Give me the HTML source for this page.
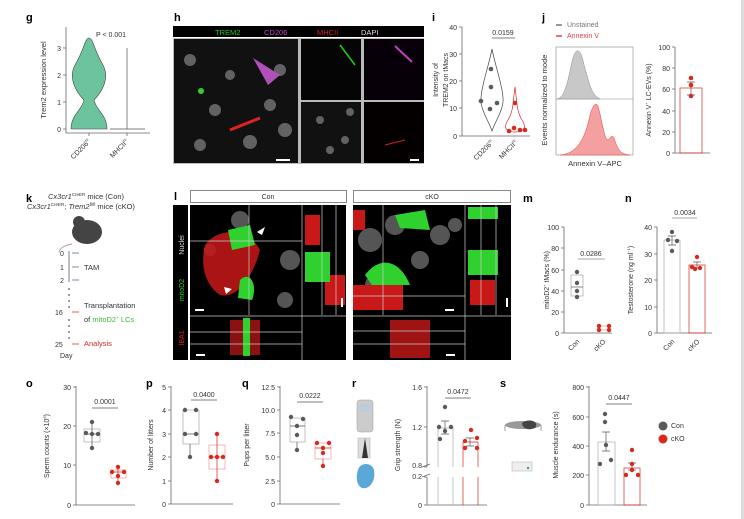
<!DOCTYPE html>
<html><head><meta charset="utf-8"><style>
body{margin:0;background:#fff}
svg{display:block;font-family:"Liberation Sans",sans-serif}
.t{font-size:7px;fill:#333}
.L{font-size:11px;font-weight:bold;fill:#000}
.ax{stroke:#666;stroke-width:0.8;fill:none}
</style></head><body>
<svg width="744" height="519" viewBox="0 0 744 519" xmlns="http://www.w3.org/2000/svg">
<rect x="741" y="0" width="3" height="519" fill="#ddd"/>
<!-- g -->
<text class="L" x="26" y="21">g</text>
<path class="ax" d="M66,27V133H150M63,48h3M63,75h3M63,102h3M63,129h3M89,133v3M127,133v3"/>
<g class="t" text-anchor="end"><text x="61" y="51">3</text><text x="61" y="78">2</text><text x="61" y="105">1</text><text x="61" y="132">0</text></g>
<path d="M89,38C85,38 84,50 75,65C68,78 76,92 84,100C82,110 71,115 71,129H107C107,115 96,110 94,100C102,92 110,78 103,65C94,50 93,38 89,38Z" fill="#6cc49c" stroke="#444" stroke-width="0.6"/>
<path d="M127,48V129M110,129H145" stroke="#555" stroke-width="0.7"/>
<text class="t" x="96" y="37">P &lt; 0.001</text>
<text class="t" transform="translate(46,80) rotate(-90)" text-anchor="middle" style="font-size:7.5px">Trem2 expression level</text>
<text class="t" transform="translate(91,142) rotate(-45)" text-anchor="end">CD206<tspan font-size="4" dy="-3">hi</tspan></text>
<text class="t" transform="translate(129,142) rotate(-45)" text-anchor="end">MHCII<tspan font-size="4" dy="-3">hi</tspan></text>
<!-- h -->
<text class="L" x="174" y="21">h</text>
<rect x="173" y="26" width="251" height="11" fill="#000"/>
<g style="font-size:7.5px"><text x="215" y="35" fill="#2cc52c">TREM2</text><text x="264" y="35" fill="#c04ac8">CD206</text><text x="317" y="35" fill="#d22">MHCII</text><text x="361" y="35" fill="#ddd">DAPI</text></g>
<rect x="173" y="38" width="251" height="126" fill="#bbb"/>
<rect x="174" y="39" width="124" height="124" fill="#111"/>
<rect x="301" y="39" width="60" height="61" fill="#050505"/>
<rect x="364" y="39" width="60" height="61" fill="#080008"/>
<rect x="301" y="102" width="60" height="61" fill="#111"/>
<rect x="364" y="102" width="60" height="61" fill="#050000"/>
<g fill="#777" opacity="0.8"><circle cx="190" cy="60" r="6"/><circle cx="215" cy="110" r="6"/><circle cx="250" cy="142" r="7"/><circle cx="280" cy="70" r="6"/><circle cx="200" cy="145" r="6"/><circle cx="285" cy="130" r="7"/><circle cx="230" cy="75" r="5"/><circle cx="270" cy="105" r="6"/><circle cx="320" cy="120" r="4"/><circle cx="345" cy="140" r="4"/><circle cx="330" cy="150" r="4"/><circle cx="350" cy="112" r="4"/></g>
<path d="M253,58L280,75L268,85Z" fill="#b050b8"/><path d="M230,130L260,118" stroke="#d22" stroke-width="3"/><circle cx="201" cy="91" r="3" fill="#3c3"/>
<path d="M340,45L355,65" stroke="#2c2" stroke-width="1.5"/><path d="M395,46L412,62" stroke="#b4b" stroke-width="2"/><path d="M385,145L405,140" stroke="#c22" stroke-width="1"/>
<rect x="276" y="159" width="14" height="2" fill="#fff"/><rect x="410" y="159" width="9" height="2" fill="#fff"/>
<!-- i -->
<text class="L" x="432" y="21">i</text>
<path class="ax" d="M462,27V136H530M459,27h3M459,54h3M459,81h3M459,108h3M459,136h3"/>
<g class="t" text-anchor="end"><text x="457" y="30">40</text><text x="457" y="57">30</text><text x="457" y="84">20</text><text x="457" y="111">10</text><text x="457" y="139">0</text></g>
<path d="M492,49C489,65 480,90 481,102C482,112 489,122 492,131C495,122 502,112 503,102C504,90 495,65 492,49Z" fill="none" stroke="#444" stroke-width="0.7"/>
<path d="M515,87C513,100 514,110 508,120C503,128 506,132 515,132C524,132 527,128 522,120C516,110 517,100 515,87Z" fill="none" stroke="#d62a1e" stroke-width="0.7"/>
<g fill="#5a5a5a"><circle cx="491" cy="69" r="2.3"/><circle cx="491" cy="87" r="2.3"/><circle cx="481" cy="101" r="2.3"/><circle cx="497" cy="103" r="2.3"/><circle cx="490" cy="109" r="2.3"/></g>
<g fill="#d62a1e"><circle cx="515" cy="103" r="2.3"/><circle cx="514" cy="128" r="2.3"/><circle cx="520" cy="130" r="2.3"/><circle cx="509" cy="131" r="2.3"/><circle cx="525" cy="130" r="2.3"/></g>
<path d="M492,38H515" stroke="#555" stroke-width="0.7"/><text class="t" x="503" y="35" text-anchor="middle">0.0159</text>
<text class="t" transform="translate(438,80) rotate(-90)" text-anchor="middle">Intensity of</text>
<text class="t" transform="translate(448,80) rotate(-90)" text-anchor="middle">TREM2 on tMacs</text>
<text class="t" transform="translate(494,143) rotate(-45)" text-anchor="end">CD206<tspan font-size="4" dy="-3">hi</tspan></text>
<text class="t" transform="translate(518,143) rotate(-45)" text-anchor="end">MHCII<tspan font-size="4" dy="-3">hi</tspan></text>
<!-- j -->
<text class="L" x="542" y="21">j</text>
<path d="M556,25h6" stroke="#777" stroke-width="1.5"/><text class="t" x="567" y="27" fill="#777" style="fill:#777">Unstained</text>
<path d="M556,36h6" stroke="#e04545" stroke-width="1.5"/><text x="567" y="38" style="font-size:7px;fill:#e04545">Annexin V</text>
<rect x="556" y="47" width="77" height="108" fill="none" stroke="#888" stroke-width="0.6"/>
<path d="M556,99H633" stroke="#888" stroke-width="0.6"/>
<path d="M557,99C565,98 568,80 572,62C574,54 576,50 578,51C582,52 583,62 586,72C590,86 592,95 600,99Z" fill="#c8c8c8" stroke="#888" stroke-width="0.5"/>
<path d="M560,155C576,154 585,140 590,115C593,104 596,102 598,106C603,125 604,138 608,140C611,137 612,134 614,138C618,150 620,154 630,155Z" fill="#f4a0a0" stroke="#e04545" stroke-width="0.5"/>
<text class="t" x="595" y="166" text-anchor="middle" style="font-size:7.5px">Annexin V–APC</text>
<text class="t" transform="translate(547,100) rotate(-90)" text-anchor="middle" style="font-size:7.5px">Events normalized to mode</text>
<path class="ax" d="M675,47V153H710M672,47h3M672,68h3M672,89h3M672,111h3M672,132h3M672,153h3"/>
<g class="t" text-anchor="end"><text x="670" y="50">100</text><text x="670" y="71">80</text><text x="670" y="92">60</text><text x="670" y="114">40</text><text x="670" y="135">20</text><text x="670" y="156">0</text></g>
<rect x="680" y="88" width="22" height="65" fill="none" stroke="#d62a1e" stroke-width="0.7"/>
<path d="M691,82V95M687,82h8M687,95h8" stroke="#555" stroke-width="0.7"/>
<g fill="#d62a1e"><circle cx="691" cy="78" r="2.3"/><circle cx="691" cy="85" r="2.3"/><circle cx="691" cy="96" r="2.3"/></g>
<text class="t" transform="translate(651,100) rotate(-90)" text-anchor="middle">Annexin V<tspan font-size="4" dy="-3">+</tspan><tspan dy="3"> LC-EVs (%)</tspan></text>
<!-- k -->
<text class="L" x="26" y="202">k</text>
<text class="t" x="48" y="199" style="font-size:7.5px"><tspan font-style="italic">Cx3cr1</tspan><tspan font-size="4.5" dy="-3">CreER</tspan><tspan dy="3"> mice (Con)</tspan></text>
<text class="t" x="27" y="209" style="font-size:7.5px"><tspan font-style="italic">Cx3cr1</tspan><tspan font-size="4.5" dy="-3">CreER</tspan><tspan dy="3">; </tspan><tspan font-style="italic">Trem2</tspan><tspan font-size="4.5" dy="-3">fl/fl</tspan><tspan dy="3"> mice (cKO)</tspan></text>
<ellipse cx="87" cy="232" rx="15" ry="12" fill="#444"/><circle cx="79" cy="222" r="6" fill="#444"/><path d="M72,244C65,245 60,248 59,252" stroke="#b99" stroke-width="1" fill="none"/>
<path d="M69,251V282" stroke="#8a90a8" stroke-width="1.2"/>
<g class="t"><text x="60" y="256">0</text><text x="60" y="270">1</text><text x="60" y="283">2</text><text x="55" y="315">16</text><text x="55" y="347">25</text><text x="60" y="358">Day</text></g>
<g stroke="#55608a" stroke-width="0.8"><path d="M72,253h7M72,267h7M72,280h7"/></g>
<g stroke="#d62a1e" stroke-width="0.8"><path d="M72,312h7M72,344h7"/></g>
<g fill="#555"><circle cx="69" cy="289" r="0.9"/><circle cx="69" cy="295" r="0.9"/><circle cx="69" cy="301" r="0.9"/><circle cx="69" cy="307" r="0.9"/><circle cx="69" cy="320" r="0.9"/><circle cx="69" cy="326" r="0.9"/><circle cx="69" cy="332" r="0.9"/><circle cx="69" cy="338" r="0.9"/></g>
<text class="t" x="84" y="270" style="font-size:7.5px">TAM</text>
<text class="t" x="84" y="308" style="font-size:7.5px">Transplantation</text>
<text x="84" y="322" style="font-size:7.5px;fill:#333">of <tspan fill="#3cb43c">mitoD2<tspan font-size="4.5" dy="-3">+</tspan><tspan dy="3"> LCs</tspan></tspan></text>
<text x="84" y="346" style="font-size:7.5px;fill:#d62a1e">Analysis</text>
<!-- l -->
<text class="L" x="174" y="200">l</text>
<rect x="190.5" y="190.5" width="156" height="12" fill="#fff" stroke="#555" stroke-width="0.7"/><text class="t" x="268" y="199" text-anchor="middle">Con</text>
<rect x="353.5" y="190.5" width="157" height="12" fill="#fff" stroke="#555" stroke-width="0.7"/><text class="t" x="432" y="199" text-anchor="middle">cKO</text>
<rect x="173" y="205" width="15" height="155" fill="#000"/>
<text transform="translate(184,245) rotate(-90)" text-anchor="middle" style="font-size:7px;fill:#ddd">Nuclei</text>
<text transform="translate(184,290) rotate(-90)" text-anchor="middle" style="font-size:7px;fill:#3c3">mitoD2</text>
<text transform="translate(184,338) rotate(-90)" text-anchor="middle" style="font-size:7px;fill:#d22">IBA1</text>
<rect x="190" y="205" width="156" height="155" fill="#000"/>
<rect x="353" y="205" width="158" height="155" fill="#000"/>
<g fill="#555"><circle cx="240" cy="220" r="9"/><circle cx="290" cy="260" r="10"/><circle cx="285" cy="300" r="8"/><circle cx="210" cy="250" r="6"/><circle cx="370" cy="240" r="12"/><circle cx="395" cy="225" r="10"/><circle cx="440" cy="235" r="10"/><circle cx="420" cy="260" r="9"/><circle cx="375" cy="285" r="10"/><circle cx="455" cy="225" r="7"/></g>
<g fill="#c81818"><path d="M205,245C220,225 250,230 260,250C255,270 240,300 220,295C205,285 200,265 205,245Z" opacity="0.85"/><rect x="305" y="215" width="15" height="30"/><rect x="325" y="275" width="20" height="30"/><rect x="353" y="285" width="50" height="25"/><rect x="470" y="280" width="25" height="25"/><rect x="353" y="210" width="12" height="20"/><rect x="230" y="320" width="30" height="35" opacity="0.7"/><rect x="390" y="320" width="40" height="38" opacity="0.8"/></g>
<g fill="#2ed12e"><path d="M228,230L250,225L255,245L232,250Z"/><path d="M240,280C250,270 258,285 252,300L238,298Z"/><rect x="305" y="252" width="25" height="30"/><path d="M365,275C380,255 400,260 410,285L372,285Z"/><path d="M395,215L425,210L430,230L400,228Z"/><rect x="468" y="207" width="30" height="12"/><rect x="468" y="250" width="30" height="25"/><rect x="243" y="318" width="7" height="38"/></g>
<g stroke="#ccc" stroke-width="0.7" fill="none"><path d="M190,241H302M249,205V315M302,205V360M190,316H346M190,332H302M190,344H302M322,205V315M336,205V315"/><path d="M353,296H465M383,205V315M465,205V360M353,316H511M353,331H465M353,344H465M481,205V315M496,205V315"/></g>
<path d="M257,232l8,-5l-3,8Z M224,287l8,2l-6,5Z" fill="#fff"/>
<g fill="#fff"><rect x="195" y="309" width="9" height="2"/><rect x="341" y="298" width="2" height="9"/><rect x="196" y="354" width="9" height="2"/><rect x="445" y="309" width="9" height="2"/><rect x="506" y="298" width="2" height="9"/><rect x="446" y="354" width="9" height="2"/></g>
<!-- m -->
<text class="L" x="523" y="202">m</text>
<path class="ax" d="M564,227V333H612M561,227h3M561,248h3M561,270h3M561,291h3M561,312h3M561,333h3"/>
<g class="t" text-anchor="end"><text x="559" y="230">100</text><text x="559" y="251">80</text><text x="559" y="273">60</text><text x="559" y="294">40</text><text x="559" y="315">20</text><text x="559" y="336">0</text></g>
<rect x="571" y="275" width="12" height="21" fill="none" stroke="#999" stroke-width="0.6"/><path d="M571,287h12" stroke="#555" stroke-width="0.7"/>
<rect x="598" y="326" width="12" height="4" fill="none" stroke="#e88" stroke-width="0.6"/>
<g fill="#5a5a5a"><circle cx="577" cy="272" r="2.2"/><circle cx="577" cy="283" r="2.2"/><circle cx="577" cy="291" r="2.2"/><circle cx="577" cy="297" r="2.2"/></g>
<g fill="#d62a1e"><circle cx="599" cy="326" r="2.2"/><circle cx="609" cy="326" r="2.2"/><circle cx="599" cy="330" r="2.2"/><circle cx="609" cy="330" r="2.2"/></g>
<path d="M578,259H605" stroke="#888" stroke-width="0.7"/><text class="t" x="591" y="256" text-anchor="middle">0.0286</text>
<text class="t" transform="translate(549,280) rotate(-90)" text-anchor="middle">mitoD2<tspan font-size="4" dy="-3">+</tspan><tspan dy="3"> tMacs (%)</tspan></text>
<text class="t" transform="translate(580,342) rotate(-45)" text-anchor="end">Con</text><text class="t" transform="translate(606,342) rotate(-45)" text-anchor="end">cKO</text>
<!-- n -->
<text class="L" x="625" y="202">n</text>
<path class="ax" d="M657,227V333H712M654,227h3M654,254h3M654,280h3M654,307h3M654,333h3"/>
<g class="t" text-anchor="end"><text x="652" y="230">40</text><text x="652" y="257">30</text><text x="652" y="283">20</text><text x="652" y="310">10</text><text x="652" y="336">0</text></g>
<rect x="664" y="240" width="16" height="93" fill="none" stroke="#aaa" stroke-width="0.7"/><rect x="689" y="265" width="16" height="68" fill="none" stroke="#d62a1e" stroke-width="0.7"/>
<path d="M672,236V245M668,236h8M668,245h8M697,262V268M693,262h8M693,268h8" stroke="#555" stroke-width="0.7"/>
<g fill="#5a5a5a"><circle cx="672" cy="232" r="2.2"/><circle cx="668" cy="240" r="2.2"/><circle cx="677" cy="241" r="2.2"/><circle cx="672" cy="251" r="2.2"/></g>
<g fill="#d62a1e"><circle cx="697" cy="257" r="2.2"/><circle cx="692" cy="267" r="2.2"/><circle cx="700" cy="268" r="2.2"/><circle cx="695" cy="269" r="2.2"/></g>
<path d="M672,218H697" stroke="#888" stroke-width="0.7"/><text class="t" x="685" y="215" text-anchor="middle">0.0034</text>
<text class="t" transform="translate(633,280) rotate(-90)" text-anchor="middle">Testosterone (ng ml<tspan font-size="4" dy="-3">−1</tspan><tspan dy="3">)</tspan></text>
<text class="t" transform="translate(675,342) rotate(-45)" text-anchor="end">Con</text><text class="t" transform="translate(700,342) rotate(-45)" text-anchor="end">cKO</text>
<!-- o -->
<text class="L" x="26" y="387">o</text>
<path class="ax" d="M76,386V505H135M73,387h3M73,426h3M73,465h3M73,505h3"/>
<g class="t" text-anchor="end"><text x="71" y="390">30</text><text x="71" y="429">20</text><text x="71" y="468">10</text><text x="71" y="508">0</text></g>
<rect x="84" y="429" width="16" height="13" fill="none" stroke="#999" stroke-width="0.6"/><path d="M92,422V449M84,434h16" stroke="#555" stroke-width="0.7"/>
<rect x="111" y="470" width="15" height="8" fill="none" stroke="#e88" stroke-width="0.6"/><path d="M118,467V483M111,472h15" stroke="#d62a1e" stroke-width="0.7"/>
<g fill="#5a5a5a"><circle cx="92" cy="422" r="2.2"/><circle cx="86" cy="433" r="2.2"/><circle cx="92" cy="434" r="2.2"/><circle cx="98" cy="434" r="2.2"/><circle cx="92" cy="448" r="2.2"/></g>
<g fill="#d62a1e"><circle cx="118" cy="467" r="2.2"/><circle cx="112" cy="472" r="2.2"/><circle cx="124" cy="472" r="2.2"/><circle cx="118" cy="476" r="2.2"/><circle cx="118" cy="483" r="2.2"/></g>
<path d="M92,408H118" stroke="#555" stroke-width="0.7"/><text class="t" x="105" y="404" text-anchor="middle">0.0001</text>
<text class="t" transform="translate(49,446) rotate(-90)" text-anchor="middle">Sperm counts (×10<tspan font-size="4" dy="-3">6</tspan><tspan dy="3">)</tspan></text>
<!-- p -->
<text class="L" x="146" y="387">p</text>
<path class="ax" d="M171,386V504H233M168,387h3M168,410h3M168,434h3M168,457h3M168,481h3M168,504h3"/>
<g class="t" text-anchor="end"><text x="166" y="390">5</text><text x="166" y="413">4</text><text x="166" y="437">3</text><text x="166" y="460">2</text><text x="166" y="484">1</text><text x="166" y="507">0</text></g>
<rect x="183" y="410" width="16" height="34" fill="none" stroke="#999" stroke-width="0.6"/><path d="M190,444V457M183,434h16" stroke="#555" stroke-width="0.7"/>
<rect x="209" y="445" width="16" height="24" fill="none" stroke="#e88" stroke-width="0.6"/><path d="M217,434V481M209,457h16" stroke="#d62a1e" stroke-width="0.7"/>
<g fill="#5a5a5a"><circle cx="185" cy="410" r="2.2"/><circle cx="196" cy="410" r="2.2"/><circle cx="185" cy="434" r="2.2"/><circle cx="196" cy="434" r="2.2"/><circle cx="190" cy="457" r="2.2"/></g>
<g fill="#d62a1e"><circle cx="217" cy="434" r="2.2"/><circle cx="211" cy="457" r="2.2"/><circle cx="217" cy="457" r="2.2"/><circle cx="223" cy="457" r="2.2"/><circle cx="217" cy="481" r="2.2"/></g>
<path d="M191,400H217" stroke="#555" stroke-width="0.7"/><text class="t" x="204" y="397" text-anchor="middle">0.0400</text>
<text class="t" transform="translate(153,445) rotate(-90)" text-anchor="middle">Number of litters</text>
<!-- q -->
<text class="L" x="242" y="387">q</text>
<path class="ax" d="M280,386V504H340M277,387h3M277,410h3M277,433h3M277,457h3M277,481h3M277,504h3"/>
<g class="t" text-anchor="end"><text x="275" y="390">12.5</text><text x="275" y="413">10.0</text><text x="275" y="436">7.5</text><text x="275" y="460">5.0</text><text x="275" y="484">2.5</text><text x="275" y="507">0</text></g>
<rect x="290" y="418" width="15" height="24" fill="none" stroke="#999" stroke-width="0.6"/><path d="M297,442V450M290,426h15" stroke="#555" stroke-width="0.7"/>
<rect x="315" y="443" width="16" height="16" fill="none" stroke="#e88" stroke-width="0.6"/><path d="M323,459V466M315,448h16" stroke="#d62a1e" stroke-width="0.7"/>
<g fill="#5a5a5a"><circle cx="291" cy="417" r="2.2"/><circle cx="303" cy="419" r="2.2"/><circle cx="297" cy="426" r="2.2"/><circle cx="297" cy="435" r="2.2"/><circle cx="297" cy="450" r="2.2"/></g>
<g fill="#d62a1e"><circle cx="317" cy="443" r="2.2"/><circle cx="329" cy="443" r="2.2"/><circle cx="323" cy="448" r="2.2"/><circle cx="323" cy="453" r="2.2"/><circle cx="323" cy="466" r="2.2"/></g>
<path d="M297,402H323" stroke="#555" stroke-width="0.7"/><text class="t" x="310" y="398" text-anchor="middle">0.0222</text>
<text class="t" transform="translate(249,445) rotate(-90)" text-anchor="middle">Pups per litter</text>
<!-- r -->
<text class="L" x="352" y="387">r</text>
<rect x="357" y="400" width="16" height="32" rx="3" fill="#ccc" stroke="#999" stroke-width="0.5"/><rect x="360" y="404" width="10" height="8" fill="#bcd"/>
<rect x="358" y="438" width="12" height="20" fill="#ddd" stroke="#aaa" stroke-width="0.5"/><path d="M365,438l-3,20h6Z" fill="#333"/>
<path d="M358,470C360,462 372,462 374,470C376,480 370,490 362,488C356,485 356,476 358,470Z" fill="#5aa8d8"/>
<path class="ax" d="M427,386V467M427,477V505H487M424,387h3M424,427h3M424,467h3M424,477h3M424,505h3"/>
<path d="M422,467l8,-3M422,477l8,-3" stroke="#666" stroke-width="0.7"/>
<g class="t" text-anchor="end"><text x="422" y="390">1.6</text><text x="422" y="430">1.2</text><text x="422" y="468">0.8</text><text x="422" y="479">0.2</text><text x="422" y="508">0</text></g>
<path d="M438,467V428H453V467M438,477V505M453,477V505" fill="none" stroke="#aaa" stroke-width="0.7"/>
<path d="M463,467V442H478V467M463,477V505M478,477V505" fill="none" stroke="#d62a1e" stroke-width="0.7"/>
<path d="M445,421V434M441,421h8M441,434h8M470,438V446M466,438h8M466,446h8" stroke="#555" stroke-width="0.7"/>
<g fill="#5a5a5a"><circle cx="445" cy="407" r="2.2"/><circle cx="439" cy="427" r="2.2"/><circle cx="451" cy="427" r="2.2"/><circle cx="445" cy="431" r="2.2"/><circle cx="440" cy="439" r="2.2"/></g>
<g fill="#d62a1e"><circle cx="471" cy="430" r="2.2"/><circle cx="477" cy="438" r="2.2"/><circle cx="465" cy="441" r="2.2"/><circle cx="465" cy="448" r="2.2"/><circle cx="477" cy="448" r="2.2"/></g>
<path d="M445,398H471" stroke="#555" stroke-width="0.7"/><text class="t" x="458" y="394" text-anchor="middle">0.0472</text>
<text class="t" transform="translate(400,445) rotate(-90)" text-anchor="middle">Grip strength (N)</text>
<!-- s -->
<text class="L" x="500" y="387">s</text>
<ellipse cx="523" cy="425" rx="18" ry="4" fill="#999"/><path d="M505,425v6M541,425v6" stroke="#777" stroke-width="0.7"/><path d="M522,423C528,418 540,421 535,428C528,431 522,428 522,423Z" fill="#444"/>
<rect x="512" y="462" width="20" height="9" fill="#eee" stroke="#aaa" stroke-width="0.5"/><circle cx="528" cy="468" r="1.2" fill="#39c"/>
<path class="ax" d="M589,386V505H647M586,387h3M586,417h3M586,446h3M586,475h3M586,505h3"/>
<g class="t" text-anchor="end"><text x="584" y="390">800</text><text x="584" y="420">600</text><text x="584" y="449">400</text><text x="584" y="478">200</text><text x="584" y="508">0</text></g>
<rect x="598" y="442" width="17" height="63" fill="none" stroke="#aaa" stroke-width="0.7"/><rect x="624" y="468" width="16" height="37" fill="none" stroke="#d62a1e" stroke-width="0.7"/>
<path d="M606,432V451M602,432h8M602,451h8M632,463V470M628,463h8M628,470h8" stroke="#555" stroke-width="0.7"/>
<g fill="#5a5a5a"><circle cx="605" cy="414" r="2.2"/><circle cx="605" cy="422" r="2.2"/><circle cx="606" cy="445" r="2.2"/><circle cx="611" cy="460" r="2.2"/><circle cx="600" cy="464" r="2.2"/></g>
<g fill="#d62a1e"><circle cx="632" cy="450" r="2.2"/><circle cx="632" cy="464" r="2.2"/><circle cx="632" cy="470" r="2.2"/><circle cx="626" cy="475" r="2.2"/><circle cx="638" cy="475" r="2.2"/></g>
<path d="M606,404H632" stroke="#555" stroke-width="0.7"/><text class="t" x="619" y="400" text-anchor="middle">0.0447</text>
<text class="t" transform="translate(558,445) rotate(-90)" text-anchor="middle">Muscle endurance (s)</text>
<circle cx="663" cy="426" r="4.5" fill="#5a5a5a"/><text class="t" x="671" y="428">Con</text>
<circle cx="663" cy="439" r="4.5" fill="#d62a1e"/><text class="t" x="671" y="441">cKO</text>
</svg>
</body></html>
